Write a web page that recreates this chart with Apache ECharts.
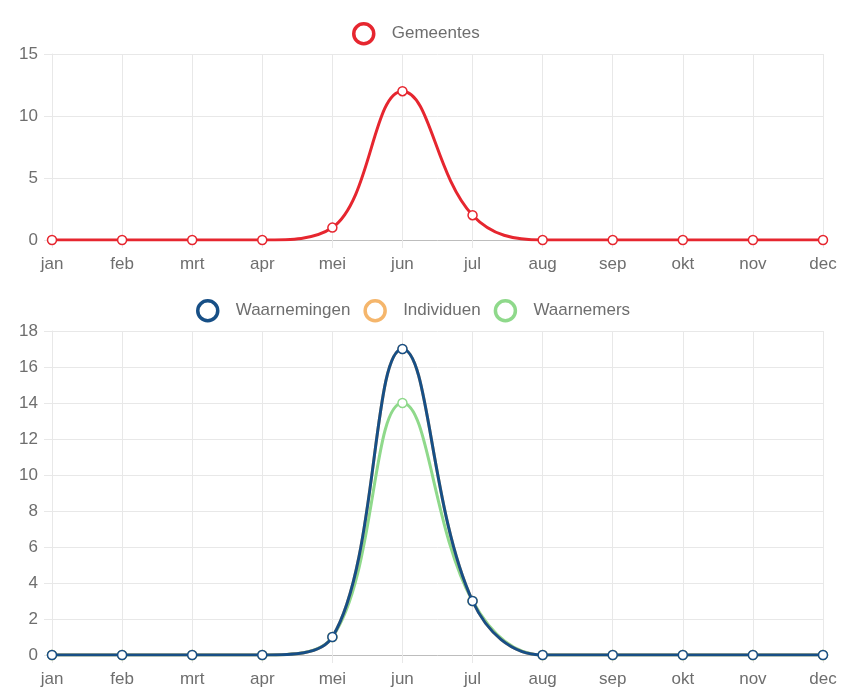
<!DOCTYPE html>
<html>
<head>
<meta charset="utf-8">
<script src="https://cdn.jsdelivr.net/npm/echarts@6/dist/echarts.min.js"></script>
<style>
html,body{margin:0;padding:0;background:#fff;}
#c{width:841px;height:688px;}
</style>
</head>
<body>
<div id="c"></div>
<script>
var months = ['jan','feb','mrt','apr','mei','jun','jul','aug','sep','okt','nov','dec'];
var gemeentes = [0,0,0,0,1,12,2,0,0,0,0,0];
var waarnemingen = [0,0,0,0,1,17,3,0,0,0,0,0];
var individuen = [0,0,0,0,1,17,3,0,0,0,0,0];
var waarnemers = [0,0,0,0,1,14,3,0,0,0,0,0];
var topTicks = {min:0, max:15, interval:5};
var bottomTicks = {min:0, max:18, interval:2};

var RED = '#e6262f', BLUE = '#174f86', ORANGE = '#f5b66c', GREEN = '#8fd98b';
var FONT = 'Liberation Sans';
var TXT = '#6e6e6e';
var GRID = '#e8e8e8';

function xAxis(idx){
  return {
    type:'category', gridIndex:idx, data:months, boundaryGap:false,
    axisLine:{show:true, onZero:true, lineStyle:{color:'#bdbdbd', width:1}},
    axisTick:{show:true, length:8, alignWithLabel:true, lineStyle:{color:GRID}},
    axisLabel:{color:TXT, fontFamily:FONT, fontSize:17, margin:16, interval:0},
    splitLine:{show:true, lineStyle:{color:GRID, width:1}}
  };
}
function yAxis(idx, t){
  return {
    type:'value', gridIndex:idx, min:t.min, max:t.max, interval:t.interval,
    axisLine:{show:true, lineStyle:{color:GRID}},
    axisTick:{show:true, length:8, lineStyle:{color:GRID}},
    axisLabel:{color:TXT, fontFamily:FONT, fontSize:17, margin:14},
    splitLine:{show:true, lineStyle:{color:GRID, width:1}}
  };
}
function line(name, data, color, xi, z){
  return {
    name:name, type:'line', xAxisIndex:xi, yAxisIndex:xi, data:data,
    smooth:0.4, z:z,
    lineStyle:{color:color, width:3},
    itemStyle:{color:'#fff', borderColor:color, borderWidth:1.5},
    symbol:'circle', symbolSize:9, showSymbol:true,
    emphasis:{disabled:true}
  };
}
function legendItem(name, color){
  return {name:name, icon:'circle', itemStyle:{color:'rgba(255,255,255,0)', borderColor:color, borderWidth:3.5}};
}
var legendText = {color:TXT, fontFamily:FONT, fontSize:17, padding:[0,0,0,13]};

var chart = echarts.init(document.getElementById('c'), null, {renderer:'canvas'});
chart.setOption({
  animation:false,
  backgroundColor:'#fff',
  legend:[
    {data:[legendItem('Gemeentes', RED)], top:17, left:347, itemWidth:20, itemHeight:20, itemGap:13, textStyle:legendText, selectedMode:false},
    {data:[legendItem('Waarnemingen', BLUE), legendItem('Individuen', ORANGE), legendItem('Waarnemers', GREEN)], top:294, left:191, itemWidth:20, itemHeight:20, itemGap:13, textStyle:legendText, selectedMode:false}
  ],
  grid:[
    {left:52, right:18, top:54, height:186},
    {left:52, right:18, top:331, height:326}
  ],
  xAxis:[xAxis(0), xAxis(1)],
  yAxis:[yAxis(0, topTicks), yAxis(1, bottomTicks)],
  series:[
    line('Gemeentes', gemeentes, RED, 0, 4),
    line('Waarnemingen', waarnemingen, BLUE, 1, 5),
    line('Individuen', individuen, ORANGE, 1, 4),
    line('Waarnemers', waarnemers, GREEN, 1, 3)
  ]
});
</script>
</body>
</html>
